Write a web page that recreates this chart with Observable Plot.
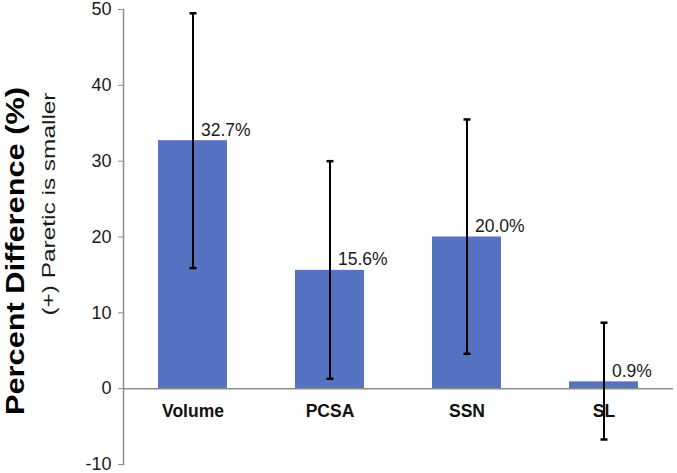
<!DOCTYPE html>
<html>
<head>
<meta charset="utf-8">
<script src="https://cdn.jsdelivr.net/npm/d3@7"></script>
<script src="https://cdn.jsdelivr.net/npm/@observablehq/plot@0.6"></script>
<style>
  html, body { margin: 0; padding: 0; background: white; }
  #chart svg { display: block; }
</style>
</head>
<body>
<div id="chart"></div>
<script>
const categories = ["Volume", "PCSA", "SSN", "SL"];
const values = [32.7, 15.6, 20.0, 0.9];
const errLow = [15.9, 1.3, 4.6, -6.7];
const errHigh = [49.5, 30.0, 35.5, 8.7];
const valueLabels = ["32.7%", "15.6%", "20.0%", "0.9%"];
const yTicks = [-10, 0, 10, 20, 30, 40, 50];
const yTitle = "Percent Difference (%)";
const ySubtitle = "(+) Paretic is smaller";

const data = categories.map((c, i) => ({
  cat: c, value: values[i], lo: errLow[i], hi: errHigh[i], label: valueLabels[i]
}));

const barColor = "#5673C1";
const axisGray = "#8c8c8c";
const font = "'Liberation Sans', Arial, Helvetica, sans-serif";

// short horizontal cap used at the ends of the error bars
const capSymbol = {
  draw(context) {
    context.moveTo(-3.5, 0);
    context.lineTo(3.5, 0);
  }
};

const chart = Plot.plot({
  width: 677,
  height: 473,
  marginLeft: 123,
  marginRight: 4,
  marginTop: 9,
  marginBottom: 9,
  style: { fontFamily: font, background: "white", overflow: "visible" },
  x: { domain: categories, paddingInner: 0.5, paddingOuter: 0.25, axis: null },
  y: { domain: [-10, 50], axis: null },
  marks: [
    Plot.barY(data, { x: "cat", y: "value", fill: barColor }),
    Plot.ruleY([0], { stroke: axisGray, strokeWidth: 1.5 }),
    Plot.axisY({ ticks: yTicks, tickSize: 5, tickPadding: 7, fontSize: 18, stroke: axisGray, fill: "#1a1a1a", label: null, tickFormat: d => String(d) }),
    Plot.frame({ anchor: "left", stroke: axisGray, strokeWidth: 1.5 }),
    Plot.ruleX(data, { x: "cat", y1: "lo", y2: "hi", stroke: "black", strokeWidth: 2 }),
    Plot.dot(data, { x: "cat", y: "lo", symbol: capSymbol, stroke: "black", fill: "none", strokeWidth: 2.5 }),
    Plot.dot(data, { x: "cat", y: "hi", symbol: capSymbol, stroke: "black", fill: "none", strokeWidth: 2.5 }),
    Plot.text(data, { x: "cat", y: "value", text: "label", textAnchor: "start", lineAnchor: "bottom", dx: 8, dy: -5, fontSize: 17.5, fill: "#1a1a1a" }),
    Plot.text(data, { x: "cat", y: () => 0, text: "cat", lineAnchor: "bottom", dy: 28, fontSize: 17.5, fontWeight: "bold", fill: "#111" })
  ]
});

const svg = d3.select(chart);
svg.append("text")
  .attr("transform", "translate(23.5,251) rotate(-90)")
  .attr("text-anchor", "middle")
  .attr("font-family", font)
  .attr("font-weight", "bold")
  .attr("font-size", 26)
  .attr("fill", "#000")
  .attr("textLength", 328)
  .attr("lengthAdjust", "spacingAndGlyphs")
  .text(yTitle);
svg.append("text")
  .attr("transform", "translate(54.5,204) rotate(-90)")
  .attr("text-anchor", "middle")
  .attr("font-family", font)
  .attr("font-size", 17.5)
  .attr("fill", "#1a1a1a")
  .attr("textLength", 223)
  .attr("lengthAdjust", "spacingAndGlyphs")
  .text(ySubtitle);

document.getElementById("chart").appendChild(chart);
</script>
</body>
</html>
